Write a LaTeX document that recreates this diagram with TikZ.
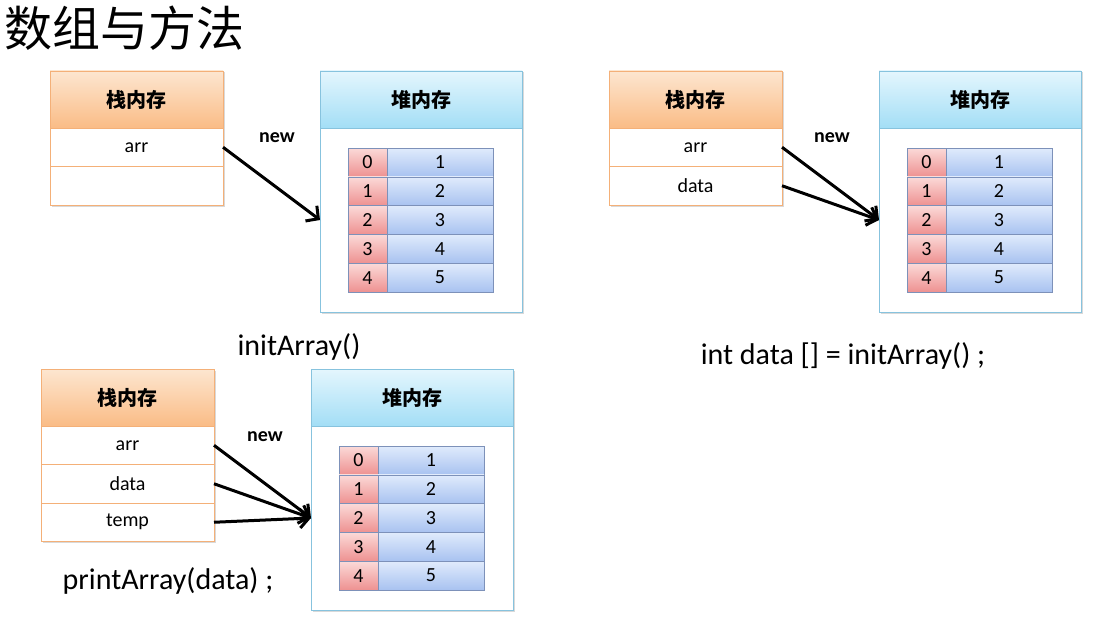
\documentclass[tikz,border=0pt]{standalone}
\usepackage{fontspec}
\setmainfont{Carlito}
\newfontfamily\cjk{Noto Sans CJK SC}
\usetikzlibrary{positioning,calc,arrows.meta,shadows}

\definecolor{stktop}{RGB}{253,230,208}
\definecolor{stkbot}{RGB}{250,188,134}
\definecolor{stkline}{RGB}{244,176,120}
\definecolor{heaptop}{RGB}{228,246,253}
\definecolor{heapbot}{RGB}{163,222,246}
\definecolor{heapline}{RGB}{135,195,222}
\definecolor{idxtop}{RGB}{251,218,216}
\definecolor{idxbot}{RGB}{238,145,145}
\definecolor{valtop}{RGB}{224,235,252}
\definecolor{valbot}{RGB}{168,194,240}
\definecolor{cellline}{RGB}{125,145,185}

\begin{document}
\begin{tikzpicture}[x=1pt, y=-1pt, node distance=0pt, inner sep=0pt, outer sep=0pt]
    \tikzstyle{shade} = [drop shadow={shadow xshift=1.5pt, shadow yshift=-1.5pt, opacity=0.3}]
    \tikzstyle{stackhead} = [rectangle, draw=stkline, top color=stktop, bottom color=stkbot, minimum width=173pt, minimum height=57pt, font=\cjk\bfseries\fontsize{20}{22}\selectfont, shade]
    \tikzstyle{stackrow} = [rectangle, draw=stkline, fill=white, minimum width=173pt, minimum height=38.5pt, font=\fontsize{20}{22}\selectfont, shade]
    \tikzstyle{heaphead} = [rectangle, draw=heapline, top color=heaptop, bottom color=heapbot, minimum width=202pt, minimum height=57pt, font=\cjk\bfseries\fontsize{20}{22}\selectfont, shade]
    \tikzstyle{heapbody} = [rectangle, draw=heapline, fill=white, minimum width=202pt, minimum height=184pt, shade]
    \tikzstyle{idxcell} = [rectangle, draw=cellline, top color=idxtop, bottom color=idxbot, minimum width=39pt, minimum height=28.8pt, font=\fontsize{20}{22}\selectfont]
    \tikzstyle{valcell} = [rectangle, draw=cellline, top color=valtop, bottom color=valbot, minimum width=106pt, minimum height=28.8pt, font=\fontsize{20}{22}\selectfont]
    \tikzstyle{ptr} = [line width=3pt, -{Straight Barb[length=9pt, width=19pt]}]
    \tikzstyle{newlbl} = [font=\bfseries\fontsize{20}{22}\selectfont]
    \tikzstyle{code} = [font=\fontsize{30}{34}\selectfont]

    \useasboundingbox (0,0) rectangle (1095,618);

    \node [font=\cjk\fontsize{48}{52}\selectfont] (title) at (125,28) {数组与方法};

    % heaps
    \foreach \h/\px/\py in {A/320/71, B/879/71, C/311/369} {
        \node [heaphead, anchor=north west] (h\h) at (\px,\py) {堆内存};
        \node [heapbody, below=of h\h] (h\h b) {};
        \foreach \i in {0,...,4} {
            \pgfmathtruncatemacro\v{\i+1}
            \node [idxcell, anchor=north west] (h\h i\i) at ($(h\h b.north west)+(28,20+28.8*\i)$) {\i};
            \node [valcell, right=of h\h i\i] (h\h v\i) {\v};
        }
    }

    % stacks
    \node [stackhead, anchor=north west] (sA) at (50,71) {栈内存};
    \node [stackrow, below=of sA] (sAarr) {arr};
    \node [stackrow, below=of sAarr] (sAnil) {};

    \node [stackhead, anchor=north west] (sB) at (609,71) {栈内存};
    \node [stackrow, below=of sB] (sBarr) {arr};
    \node [stackrow, below=of sBarr] (sBdata) {data};

    \node [stackhead, anchor=north west] (sC) at (41,369) {栈内存};
    \node [stackrow, below=of sC] (sCarr) {arr};
    \node [stackrow, below=of sCarr] (sCdata) {data};
    \node [stackrow, below=of sCdata] (sCtemp) {temp};

    % references
    \draw [ptr] (sAarr.east) -- (hAb.west);
    \draw [ptr] (sBarr.east) -- (hBb.west);
    \draw [ptr] (sBdata.east) -- (hBb.west);
    \draw [ptr] (sCarr.east) -- (hCb.west);
    \draw [ptr] (sCdata.east) -- (hCb.west);
    \draw [ptr] (sCtemp.east) -- (hCb.west);

    \node [newlbl] (newA) at (277,138) {new};
    \node [newlbl] (newB) at (832,138) {new};
    \node [newlbl] (newC) at (265,437) {new};

    \node [code] (init) at (299,347) {initArray()};
    \node [code] (assign) at (843,356) {int data [] = initArray() ;};
    \node [code] (print) at (168,581) {printArray(data) ;};
\end{tikzpicture}
\end{document}
